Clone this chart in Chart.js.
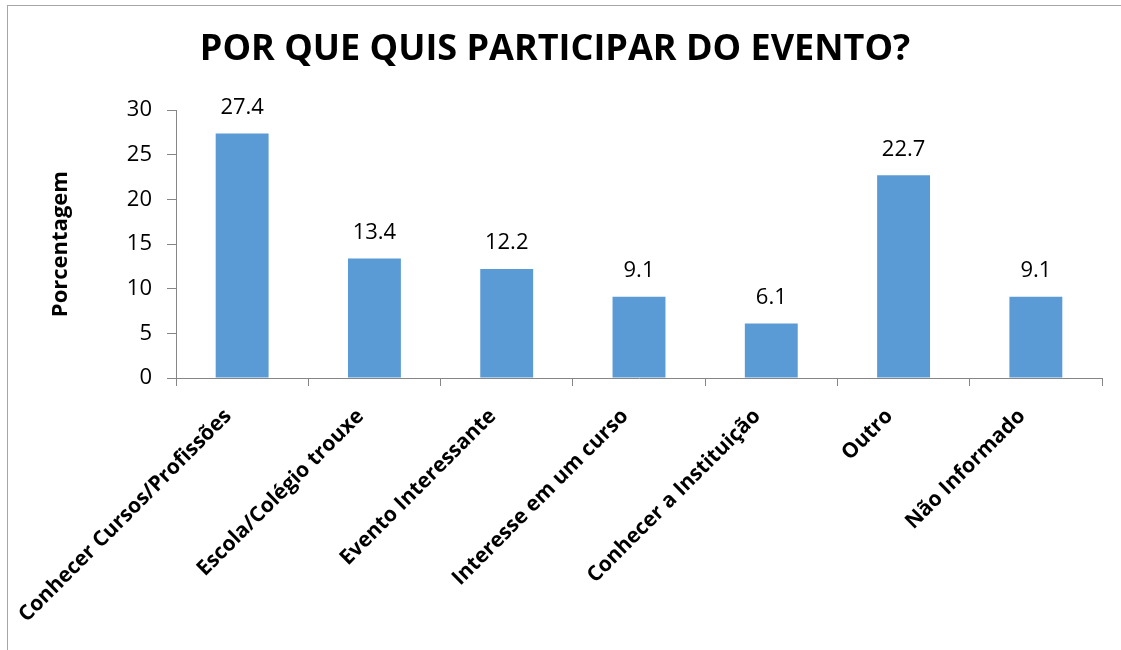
<!DOCTYPE html>
<html>
<head>
<meta charset="utf-8">
<script src="https://cdn.jsdelivr.net/npm/chart.js@4/dist/chart.umd.min.js"></script>
<style>
    html, body { margin: 0; padding: 0; background: #fff; }
    #wrap { position: relative; width: 1121px; height: 650px; overflow: hidden; }
    #frame {
        position: absolute; left: 7px; top: 5px; right: -2px; bottom: -2px;
        border-left: 1px solid #a6a6a6; border-top: 1px solid #a6a6a6;
        pointer-events: none;
    }
</style>
</head>
<body>
<div id="wrap">
    <canvas id="chart" width="1121" height="650"></canvas>
    <div id="frame"></div>
</div>
<script>
const categories = [
    'Conhecer Cursos/Profissões',
    'Escola/Colégio trouxe',
    'Evento Interessante',
    'Interesse em um curso',
    'Conhecer a Instituição',
    'Outro',
    'Não Informado'
];
const percentages = [27.4, 13.4, 12.2, 9.1, 6.1, 22.7, 9.1];
const yTicks = [0, 5, 10, 15, 20, 25, 30];

const FONT = "'Open Sans', 'DejaVu Sans', sans-serif";
const AXIS_GREY = '#868686';

// value labels above each bar
const barValues = {
    id: 'barValues',
    afterDatasetsDraw(chart) {
        const ctx = chart.ctx;
        const meta = chart.getDatasetMeta(0);
        ctx.save();
        ctx.font = `22px ${FONT}`;
        ctx.fillStyle = '#000';
        ctx.textAlign = 'center';
        ctx.textBaseline = 'middle';
        meta.data.forEach((bar, i) => {
            ctx.fillText(percentages[i].toFixed(1), bar.x, bar.y - 26);
        });
        ctx.restore();
    }
};

const ctx = document.getElementById('chart').getContext('2d');
new Chart(ctx, {
    type: 'bar',
    data: {
        labels: categories,
        datasets: [{
            data: percentages,
            backgroundColor: '#5b9bd5',
            borderWidth: 0,
            barPercentage: 0.4,
            categoryPercentage: 1.0
        }]
    },
    options: {
        responsive: false,
        animation: false,
        layout: { padding: { left: 8, right: 19, top: 0, bottom: 0 } },
        plugins: {
            legend: { display: false },
            tooltip: { enabled: false },
            title: {
                display: true,
                text: 'POR QUE QUIS PARTICIPAR DO EVENTO?',
                color: '#000',
                font: { family: FONT, size: 36, weight: 'bold', lineHeight: 1.2 },
                padding: { top: 28, bottom: 39 }
            }
        },
        scales: {
            y: {
                min: 0,
                max: 30,
                afterBuildTicks: (scale) => {
                    scale.ticks = yTicks.map(v => ({ value: v }));
                },
                afterFit: (scale) => { scale.width = 168; },
                border: { color: AXIS_GREY, width: 1 },
                grid: { drawOnChartArea: false, drawTicks: true, tickLength: 9, color: AXIS_GREY },
                ticks: {
                    color: '#000',
                    padding: 15,
                    font: { family: FONT, size: 22 }
                },
                title: {
                    display: true,
                    text: 'Porcentagem',
                    color: '#000',
                    font: { family: FONT, size: 22, weight: 'bold', lineHeight: 1.2 },
                    padding: { top: 40, bottom: 0 }
                }
            },
            x: {
                afterFit: (scale) => { scale.height = 272; },
                border: { color: AXIS_GREY, width: 1 },
                grid: { drawOnChartArea: false, drawTicks: true, tickLength: 8, color: AXIS_GREY, offset: true },
                ticks: {
                    color: '#000',
                    minRotation: 45,
                    maxRotation: 45,
                    padding: 18,
                    labelOffset: -14,
                    autoSkip: false,
                    font: { family: FONT, size: 21, weight: 'bold' }
                }
            }
        }
    },
    plugins: [barValues]
});
</script>
</body>
</html>
